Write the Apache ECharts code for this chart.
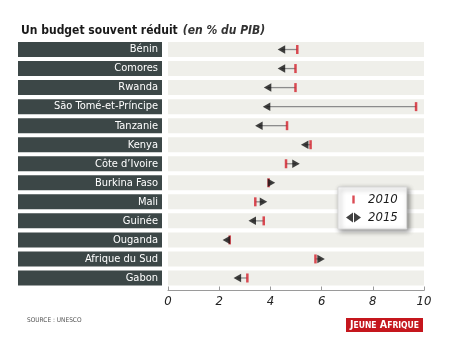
<!DOCTYPE html>
<html>
<head>
<meta charset="utf-8">
<script src="https://cdn.jsdelivr.net/npm/echarts@6/dist/echarts.min.js"></script>
<style>
  html, body { margin: 0; padding: 0; background: #ffffff; }
  #chart { width: 450px; height: 345px; }
</style>
</head>
<body>
<div id="chart"></div>
<script>
// Public spending on education, % of GDP
const categories = ['Bénin', 'Comores', 'Rwanda', 'São Tomé-et-Príncipe', 'Tanzanie', 'Kenya',
  'Côte d’Ivoire', 'Burkina Faso', 'Mali', 'Guinée', 'Ouganda', 'Afrique du Sud', 'Gabon'];
const values2010 = [5.05, 4.98, 4.98, 9.69, 4.65, 5.57, 4.61, 3.93, 3.41, 3.74, 2.41, 5.76, 3.10];
const values2015 = [4.43, 4.43, 3.89, 3.85, 3.55, 5.34, 5.00, 4.04, 3.73, 3.29, 2.28, 5.98, 2.71];
const xTicks = [0, 2, 4, 6, 8, 10];

const FONT = '"DejaVu Sans Condensed", "Liberation Sans Narrow", "Roboto", sans-serif';
const RED = '#d21f2b';
const xMin = xTicks[0], xMax = xTicks[xTicks.length - 1];

const TRI_LEFT = 'path://M0,5 L8,0 L8,10 Z';
const TRI_RIGHT = 'path://M8,5 L0,0 L0,10 Z';

const chart = echarts.init(document.getElementById('chart'), null, { renderer: 'canvas' });

chart.setOption({
  animation: false,
  backgroundColor: '#ffffff',
  title: {
    left: 16, top: 17,
    text: '{b|Un budget souvent réduit} {i|(en % du PIB)}',
    textStyle: {
      rich: {
        b: { fontFamily: FONT, fontSize: 12, fontWeight: 'bold', color: '#1a1a1a' },
        i: { fontFamily: FONT, fontSize: 12, fontStyle: 'italic', color: '#333333' }
      }
    }
  },
  legend: {
    orient: 'vertical',
    left: 338, top: 187,
    width: 67,
    padding: [6, 9, 5, 8],
    itemGap: 5,
    itemWidth: 15, itemHeight: 10,
    backgroundColor: '#ffffff',
    borderColor: '#d8d8d8', borderWidth: 1,
    shadowColor: 'rgba(0,0,0,0.45)', shadowBlur: 5, shadowOffsetX: 2, shadowOffsetY: 2,
    textStyle: { fontFamily: FONT, fontSize: 13, fontStyle: 'italic', color: '#1a1a1a', padding: [0, 0, 0, 2] },
    data: [
      { name: '2010', icon: 'path://M0,0 M6.3,1 L8.7,1 L8.7,9 L6.3,9 Z M15,10' },
      { name: '2015', icon: 'path://M0,5 L7,0 L7,10 Z M8,0 L15,5 L8,10 Z' }
    ]
  },
  grid: { left: 168, right: 26, top: 40, height: 247.5, containLabel: false },
  xAxis: {
    type: 'value',
    min: xMin, max: xMax, interval: 2,
    offset: 3,
    axisLine: { show: true, lineStyle: { color: '#9a9a9a', width: 1 } },
    axisTick: { show: true, inside: true, length: 4, lineStyle: { color: '#9a9a9a' } },
    splitLine: { show: false },
    axisLabel: {
      margin: 5,
      fontFamily: FONT, fontSize: 13, fontStyle: 'italic', color: '#222222',
      formatter: v => String(v)
    }
  },
  yAxis: {
    type: 'category',
    data: categories,
    inverse: true,
    axisLine: { show: false },
    axisTick: { show: false },
    splitLine: { show: false },
    axisLabel: {
      margin: 6,
      color: '#ffffff',
      fontFamily: FONT, fontSize: 11,
      backgroundColor: '#3c4747',
      width: 140, height: 15, lineHeight: 15,
      padding: [0, 4, 0, 0],
      align: 'right'
    }
  },
  series: [
    {
      // light row bands behind the markers
      type: 'bar',
      silent: true,
      barWidth: 15,
      itemStyle: { color: '#efefea' },
      data: categories.map(() => xMax),
      z: 1
    },
    {
      // connector between the 2010 and 2015 values
      type: 'custom',
      silent: true,
      renderItem: (params, api) => {
        const a = api.coord([api.value(0), api.value(2)]);
        const b = api.coord([api.value(1), api.value(2)]);
        return {
          type: 'line',
          shape: { x1: a[0], y1: a[1], x2: b[0], y2: b[1] },
          style: { stroke: '#8c8c8c', lineWidth: 1.3 }
        };
      },
      encode: { x: [0, 1], y: 2 },
      data: categories.map((c, i) => [values2010[i], values2015[i], i]),
      z: 2
    },
    {
      name: '2010',
      type: 'scatter',
      symbol: 'rect',
      symbolSize: [2.5, 9],
      itemStyle: { color: RED },
      data: categories.map((c, i) => [values2010[i], c]),
      z: 3
    },
    {
      name: '2015',
      type: 'scatter',
      symbolSize: [7.5, 8.5],
      itemStyle: { color: '#111111' },
      data: categories.map((c, i) => ({
        value: [values2015[i], c],
        symbol: values2015[i] >= values2010[i] ? TRI_RIGHT : TRI_LEFT
      })),
      z: 4
    }
  ],
  graphic: [
    {
      type: 'text', left: 27, top: 317,
      style: { text: 'SOURCE : UNESCO', fontFamily: FONT, fontSize: 6.5, fill: '#555555' }
    },
    {
      type: 'group', left: 346, top: 318,
      children: [
        { type: 'rect', shape: { x: 0, y: 0, width: 77, height: 14 }, style: { fill: '#c5161d' } },
        {
          type: 'text', x: 38.5, y: 7.5,
          style: {
            text: '{c|J}{s|EUNE} {c|A}{s|FRIQUE}',
            rich: {
              c: { fontFamily: FONT, fontSize: 10.5, fontWeight: 'bold', fill: '#ffffff' },
              s: { fontFamily: FONT, fontSize: 8.5, fontWeight: 'bold', fill: '#ffffff' }
            },
            align: 'center', verticalAlign: 'middle'
          }
        }
      ]
    }
  ]
});
</script>
</body>
</html>
